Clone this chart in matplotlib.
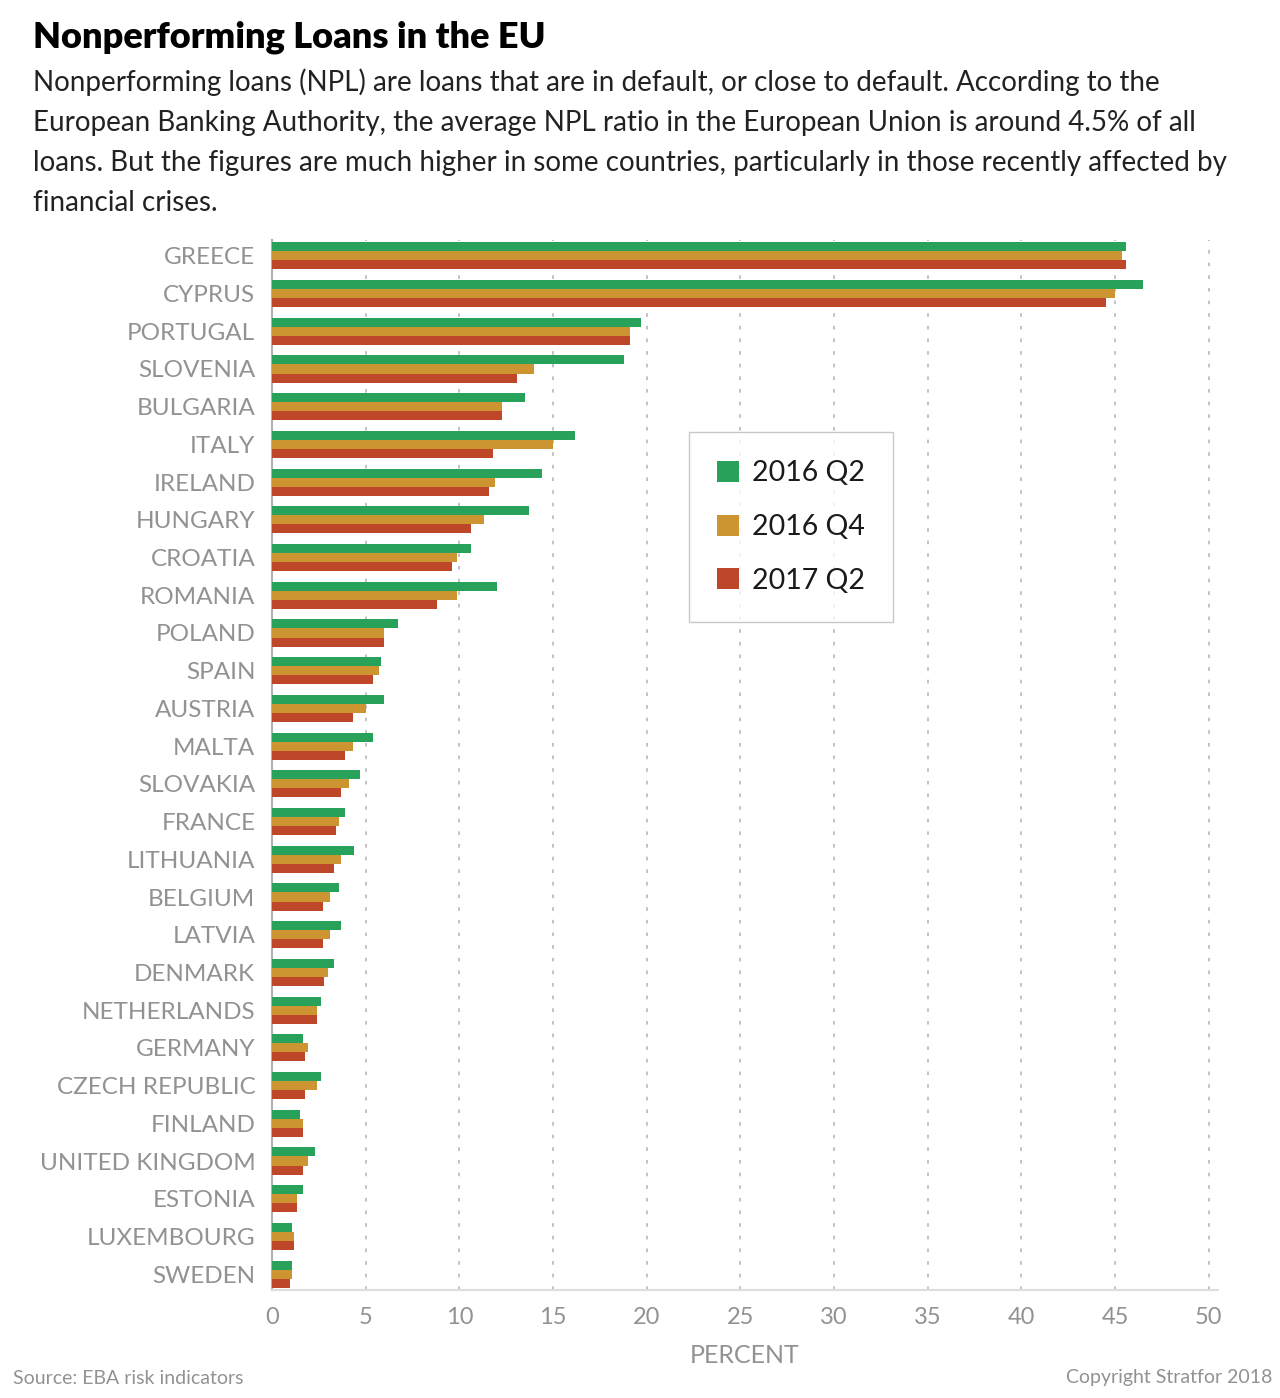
import numpy as np
import matplotlib.pyplot as plt

# Data (NPL ratio, percent)
countries = ['GREECE', 'CYPRUS', 'PORTUGAL', 'SLOVENIA', 'BULGARIA', 'ITALY', 'IRELAND',
             'HUNGARY', 'CROATIA', 'ROMANIA', 'POLAND', 'SPAIN', 'AUSTRIA', 'MALTA',
             'SLOVAKIA', 'FRANCE', 'LITHUANIA', 'BELGIUM', 'LATVIA', 'DENMARK',
             'NETHERLANDS', 'GERMANY', 'CZECH REPUBLIC', 'FINLAND', 'UNITED KINGDOM',
             'ESTONIA', 'LUXEMBOURG', 'SWEDEN']
q2_2016 = [45.6, 46.5, 19.7, 18.8, 13.5, 16.2, 14.4, 13.7, 10.6, 12.0, 6.7, 5.8, 6.0, 5.4,
           4.7, 3.9, 4.4, 3.6, 3.7, 3.3, 2.6, 1.65, 2.6, 1.5, 2.3, 1.65, 1.07, 1.07]
q4_2016 = [45.4, 45.0, 19.1, 14.0, 12.3, 15.0, 11.9, 11.3, 9.9, 9.9, 6.0, 5.7, 5.0, 4.3,
           4.1, 3.6, 3.7, 3.1, 3.1, 3.0, 2.4, 1.9, 2.4, 1.65, 1.9, 1.33, 1.2, 1.07]
q2_2017 = [45.6, 44.5, 19.1, 13.1, 12.3, 11.8, 11.6, 10.6, 9.6, 8.8, 6.0, 5.4, 4.3, 3.9,
           3.7, 3.4, 3.3, 2.7, 2.7, 2.8, 2.4, 1.76, 1.76, 1.65, 1.65, 1.33, 1.2, 0.96]
series_labels = ['2016 Q2', '2016 Q4', '2017 Q2']
xticks = [0, 5, 10, 15, 20, 25, 30, 35, 40, 45, 50]

colors = ['#28a25b', '#cc9531', '#bf4729']
gray = '#929292'
FONT = 'Lato'

fig = plt.figure(figsize=(12.8, 13.98), dpi=100)
ax = fig.add_axes([272 / 1280, (1398 - 1290) / 1398, (1218 - 272) / 1280, (1290 - 240) / 1398])

y = np.arange(len(countries))
h = 0.24
for k, vals in enumerate([q2_2016, q4_2016, q2_2017]):
    ax.barh(y + (k - 1) * h, vals, height=h, color=colors[k], label=series_labels[k], zorder=3)

ax.set_ylim(len(countries) - 1 + 0.42, -0.42)
ax.set_xlim(0, 50.5)
ax.set_yticks(y)
ax.set_yticklabels(countries, fontsize=17.5, color=gray, family=FONT)
ax.set_xticks(xticks)
ax.set_xticklabels([str(t) for t in xticks], fontsize=17, color=gray, family=FONT)
ax.tick_params(axis='both', length=0)
ax.tick_params(axis='y', pad=12)
ax.tick_params(axis='x', pad=12)

for t in xticks[1:]:
    ax.axvline(t, color='#bdbdbd', lw=1.3, ls=(0, (2, 5)), zorder=1)

for s in ['top', 'right']:
    ax.spines[s].set_visible(False)
ax.spines['left'].set_color('#b0b0b0')
ax.spines['left'].set_linewidth(1.5)
ax.spines['bottom'].set_color('#dddddd')
ax.spines['bottom'].set_linewidth(1.5)

ax.set_xlabel('PERCENT', fontsize=18, color=gray, family=FONT, labelpad=12)

leg = ax.legend(loc='upper left', bbox_to_anchor=((689 - 272) / (1218 - 272), (1290 - 432) / (1290 - 240)),
                frameon=True, fancybox=False, handlelength=0.75, handleheight=0.75,
                handletextpad=0.45, labelspacing=0.97, borderpad=1.0, borderaxespad=0,
                prop={'family': FONT, 'size': 20.5})
leg.get_frame().set_edgecolor('#bbbbbb')
leg.get_frame().set_linewidth(1.0)
for txt in leg.get_texts():
    txt.set_color('#1a1a1a')

fig.text(33 / 1280, 1 - 37 / 1398, 'Nonperforming Loans in the EU', fontsize=26, fontweight='heavy',
         family=FONT, va='center', ha='left', color='black')
subtitle = ('Nonperforming loans (NPL) are loans that are in default, or close to default. According to the\n'
            'European Banking Authority, the average NPL ratio in the European Union is around 4.5% of all\n'
            'loans. But the figures are much higher in some countries, particularly in those recently affected by\n'
            'financial crises.')
fig.text(33 / 1280, 1 - 68 / 1398, subtitle, fontsize=20, family=FONT, va='top',
         ha='left', color='#222222', linespacing=1.68)

fig.text(13 / 1280, 1 - 1378 / 1398, 'Source: EBA risk indicators', fontsize=14, color=gray,
         family=FONT, va='center', ha='left')
fig.text(1272 / 1280, 1 - 1378 / 1398, 'Copyright Stratfor 2018', fontsize=14, color=gray,
         family=FONT, va='center', ha='right')

fig.savefig('out.png', dpi=100)
